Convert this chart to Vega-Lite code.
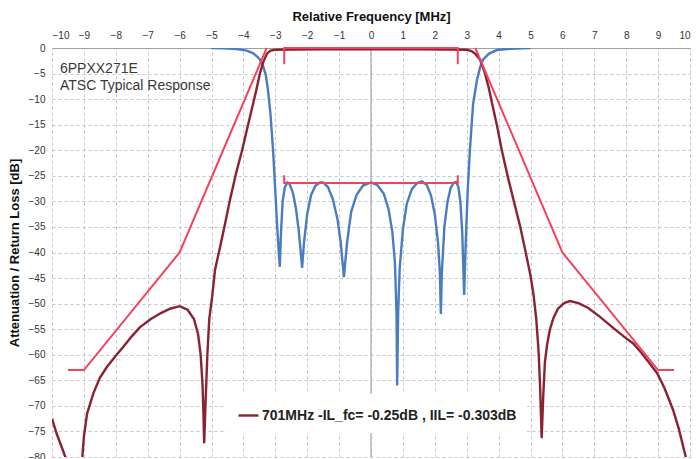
{
  "$schema": "https://vega.github.io/schema/vega-lite/v6.json",
  "autosize": {"type": "none"},
  "width": 638,
  "height": 409,
  "padding": {"left": 52, "top": 48, "right": 6, "bottom": 2},
  "background": "white",
  "config": {
    "font": "Liberation Sans",
    "view": {"stroke": null},
    "axis": {"labelFont": "Liberation Sans", "titleFont": "Liberation Sans"}
  },
  "datasets": {
    "rl": [
      {"x": -5, "y": 0}, {"x": -4.6, "y": -0.05}, {"x": -4.2, "y": -0.2}, {"x": -3.9, "y": -0.5},
      {"x": -3.7, "y": -1.0}, {"x": -3.55, "y": -1.8}, {"x": -3.48, "y": -2.3}, {"x": -3.38, "y": -3.6},
      {"x": -3.3, "y": -5.2}, {"x": -3.23, "y": -8.2}, {"x": -3.15, "y": -13}, {"x": -3.07, "y": -20},
      {"x": -3.0, "y": -28}, {"x": -2.94, "y": -35}, {"x": -2.89, "y": -40}, {"x": -2.86, "y": -42.8},
      {"x": -2.82, "y": -36}, {"x": -2.77, "y": -30}, {"x": -2.7, "y": -27.2}, {"x": -2.62, "y": -26.3},
      {"x": -2.55, "y": -26.6}, {"x": -2.45, "y": -28.3}, {"x": -2.35, "y": -31.5}, {"x": -2.27, "y": -35.5},
      {"x": -2.2, "y": -40}, {"x": -2.16, "y": -43}, {"x": -2.1, "y": -38}, {"x": -2.0, "y": -32.5},
      {"x": -1.88, "y": -28.8}, {"x": -1.75, "y": -27}, {"x": -1.6, "y": -26.3}, {"x": -1.5, "y": -26.3},
      {"x": -1.35, "y": -27.2}, {"x": -1.2, "y": -29.5}, {"x": -1.05, "y": -33.5}, {"x": -0.95, "y": -38},
      {"x": -0.85, "y": -44.8}, {"x": -0.75, "y": -38}, {"x": -0.62, "y": -32}, {"x": -0.45, "y": -28.7},
      {"x": -0.25, "y": -26.9}, {"x": 0.0, "y": -26.3}, {"x": 0.2, "y": -26.8}, {"x": 0.4, "y": -28.5},
      {"x": 0.55, "y": -31.5}, {"x": 0.67, "y": -36}, {"x": 0.75, "y": -42}, {"x": 0.8, "y": -52},
      {"x": 0.82, "y": -66}, {"x": 0.85, "y": -52}, {"x": 0.9, "y": -43}, {"x": 1.0, "y": -35.5},
      {"x": 1.12, "y": -30.5}, {"x": 1.28, "y": -27.6}, {"x": 1.45, "y": -26.4}, {"x": 1.6, "y": -26.1},
      {"x": 1.75, "y": -26.8}, {"x": 1.88, "y": -28.8}, {"x": 2.0, "y": -32.5}, {"x": 2.1, "y": -38},
      {"x": 2.16, "y": -44}, {"x": 2.19, "y": -52}, {"x": 2.22, "y": -44}, {"x": 2.3, "y": -35},
      {"x": 2.4, "y": -30}, {"x": 2.5, "y": -27.3}, {"x": 2.6, "y": -26.3}, {"x": 2.67, "y": -26.2},
      {"x": 2.74, "y": -27.2}, {"x": 2.8, "y": -30}, {"x": 2.86, "y": -36}, {"x": 2.92, "y": -48.3},
      {"x": 2.97, "y": -38}, {"x": 3.03, "y": -28}, {"x": 3.1, "y": -20}, {"x": 3.2, "y": -11},
      {"x": 3.32, "y": -6.3}, {"x": 3.42, "y": -3.8}, {"x": 3.51, "y": -2.3}, {"x": 3.7, "y": -1.1},
      {"x": 3.95, "y": -0.4}, {"x": 4.35, "y": -0.15}, {"x": 5.0, "y": 0}
    ],
    "il": [
      {"x": -10, "y": -72.5}, {"x": -9.85, "y": -75.5}, {"x": -9.7, "y": -78}, {"x": -9.55, "y": -80.5},
      {"x": -9.35, "y": -84}, {"x": -9.15, "y": -84}, {"x": -9.05, "y": -80}, {"x": -9.0, "y": -76},
      {"x": -8.9, "y": -71.5}, {"x": -8.7, "y": -67.5}, {"x": -8.5, "y": -64.5}, {"x": -8.28, "y": -62.4},
      {"x": -8.0, "y": -60.2}, {"x": -7.77, "y": -58.5}, {"x": -7.5, "y": -56.4}, {"x": -7.24, "y": -54.6},
      {"x": -6.9, "y": -53}, {"x": -6.6, "y": -51.9}, {"x": -6.3, "y": -51}, {"x": -6.0, "y": -50.5},
      {"x": -5.75, "y": -51.2}, {"x": -5.55, "y": -53}, {"x": -5.42, "y": -56}, {"x": -5.34, "y": -60},
      {"x": -5.28, "y": -66}, {"x": -5.25, "y": -72}, {"x": -5.23, "y": -77.3}, {"x": -5.19, "y": -70},
      {"x": -5.13, "y": -60}, {"x": -5.07, "y": -53}, {"x": -4.98, "y": -48.7}, {"x": -4.89, "y": -43.4},
      {"x": -4.73, "y": -38.9}, {"x": -4.58, "y": -34.5}, {"x": -4.42, "y": -29.7}, {"x": -4.23, "y": -24.5},
      {"x": -4.04, "y": -20}, {"x": -3.89, "y": -16}, {"x": -3.7, "y": -11}, {"x": -3.58, "y": -7.8},
      {"x": -3.48, "y": -4.9}, {"x": -3.38, "y": -2.8}, {"x": -3.26, "y": -1.1}, {"x": -3.15, "y": -0.5},
      {"x": -3.0, "y": -0.35}, {"x": -2.5, "y": -0.3}, {"x": -1.5, "y": -0.27}, {"x": 0, "y": -0.25},
      {"x": 1.5, "y": -0.27}, {"x": 2.5, "y": -0.3}, {"x": 3.0, "y": -0.35}, {"x": 3.15, "y": -0.6},
      {"x": 3.28, "y": -1.2}, {"x": 3.42, "y": -2.3}, {"x": 3.55, "y": -4.5}, {"x": 3.68, "y": -7.5},
      {"x": 3.82, "y": -11.5}, {"x": 3.96, "y": -15.5}, {"x": 4.1, "y": -20}, {"x": 4.3, "y": -25.5},
      {"x": 4.5, "y": -30.5}, {"x": 4.68, "y": -35}, {"x": 4.85, "y": -40}, {"x": 5.0, "y": -44.5},
      {"x": 5.1, "y": -48.5}, {"x": 5.18, "y": -53}, {"x": 5.25, "y": -59}, {"x": 5.3, "y": -66},
      {"x": 5.35, "y": -76.3}, {"x": 5.4, "y": -68}, {"x": 5.45, "y": -61.6}, {"x": 5.52, "y": -58},
      {"x": 5.61, "y": -55}, {"x": 5.72, "y": -52.8}, {"x": 5.86, "y": -51}, {"x": 6.05, "y": -49.9},
      {"x": 6.24, "y": -49.5}, {"x": 6.5, "y": -49.9}, {"x": 6.8, "y": -50.8}, {"x": 7.18, "y": -52.6},
      {"x": 7.6, "y": -54.8}, {"x": 8.0, "y": -56.8}, {"x": 8.22, "y": -57.8}, {"x": 8.5, "y": -59.8},
      {"x": 8.75, "y": -61.8}, {"x": 8.97, "y": -63.6}, {"x": 9.2, "y": -66.5}, {"x": 9.47, "y": -70.8},
      {"x": 9.65, "y": -74.5}, {"x": 9.84, "y": -79.3}, {"x": 9.95, "y": -82}
    ],
    "mask": [
      {"seg": "L", "i": 1, "x": -9.5, "y": -63}, {"seg": "L", "i": 2, "x": -9.0, "y": -63},
      {"seg": "L", "i": 3, "x": -6.0, "y": -40}, {"seg": "L", "i": 4, "x": -3.27, "y": 0},
      {"seg": "R", "i": 1, "x": 3.27, "y": 0}, {"seg": "R", "i": 2, "x": 6.0, "y": -40},
      {"seg": "R", "i": 3, "x": 9.0, "y": -63}, {"seg": "R", "i": 4, "x": 9.5, "y": -63},
      {"seg": "T", "i": 1, "x": -2.72, "y": -3.2}, {"seg": "T", "i": 2, "x": -2.72, "y": 0},
      {"seg": "T", "i": 3, "x": 2.72, "y": 0}, {"seg": "T", "i": 4, "x": 2.72, "y": -3.2},
      {"seg": "RL", "i": 1, "x": -2.72, "y": -24.9}, {"seg": "RL", "i": 2, "x": -2.72, "y": -26.4},
      {"seg": "RL", "i": 3, "x": 2.72, "y": -26.4}, {"seg": "RL", "i": 4, "x": 2.72, "y": -24.9}
    ],
    "notes": [
      {"x": -9.75, "y": -4.1, "label": "6PPXX271E"},
      {"x": -9.75, "y": -7.4, "label": "ATSC Typical Response"}
    ]
  },
  "encoding": {
    "x": {
      "field": "x", "type": "quantitative",
      "scale": {"domain": [-10, 10], "nice": false, "zero": false},
      "axis": {
        "orient": "top", "values": [-10,-9,-8,-7,-6,-5,-4,-3,-2,-1,0,1,2,3,4,5,6,7,8,9,10],
        "title": "Relative Frequency [MHz]", "titleFontSize": 13, "titleFontWeight": "bold",
        "titleColor": "#111", "titlePadding": 7,
        "labelFontSize": 10, "labelColor": "#333", "labelPadding": 8, "ticks": false,
        "domain": true, "domainColor": "#a0a0a0", "domainWidth": 1.2,
        "grid": true, "gridColor": "#c4c4c4", "gridDash": [3, 3], "gridWidth": 1
      }
    },
    "y": {
      "field": "y", "type": "quantitative",
      "scale": {"domain": [-80, 0], "nice": false, "zero": false},
      "axis": {
        "values": [0,-5,-10,-15,-20,-25,-30,-35,-40,-45,-50,-55,-60,-65,-70,-75,-80],
        "title": "Attenuation / Return Loss [dB]", "titleFontSize": 13, "titleFontWeight": "bold",
        "titleColor": "#111", "titlePadding": 7,
        "labelFontSize": 10, "labelColor": "#333", "labelPadding": 7, "ticks": false,
        "domain": false,
        "grid": true, "gridColor": "#c4c4c4", "gridDash": [3, 3], "gridWidth": 1
      }
    }
  },
  "layer": [
    {
      "data": {"values": [{"x": 0}]},
      "mark": {"type": "rule", "color": "#a8a8a8", "strokeWidth": 1.2},
      "encoding": {"x": {"field": "x", "type": "quantitative"}, "y": {"value": 0}, "y2": {"value": 409}}
    },
    {
      "data": {"name": "notes"},
      "mark": {"type": "text", "align": "left", "baseline": "middle", "fontSize": 14, "color": "#3a3a3a", "font": "Liberation Sans"},
      "encoding": {"text": {"field": "label"}}
    },
    {
      "data": {"name": "rl"},
      "mark": {"type": "line", "color": "#4a7cc0", "strokeWidth": 2.4, "clip": true}
    },
    {
      "data": {"name": "il"},
      "transform": [{"calculate": "'701MHz -IL_fc= -0.25dB , IIL= -0.303dB'", "as": "series"}],
      "mark": {"type": "line", "strokeWidth": 2.4, "clip": true},
      "encoding": {
        "color": {
          "field": "series", "type": "nominal",
          "scale": {"range": ["#8a2232"]},
          "legend": {
            "title": null, "orient": "none", "legendX": 175, "legendY": 346,
            "fillColor": "white", "padding": 10, "symbolType": "stroke", "symbolSize": 400,
            "symbolStrokeWidth": 2.4, "labelFontSize": 14, "labelFontWeight": "bold",
            "labelColor": "#222", "labelFont": "Liberation Sans", "labelOffset": 2, "labelLimit": 400
          }
        }
      }
    },
    {
      "data": {"name": "mask"},
      "mark": {"type": "line", "color": "#f2435d", "strokeWidth": 2},
      "encoding": {"detail": {"field": "seg"}, "order": {"field": "i", "type": "quantitative"}}
    }
  ]
}
